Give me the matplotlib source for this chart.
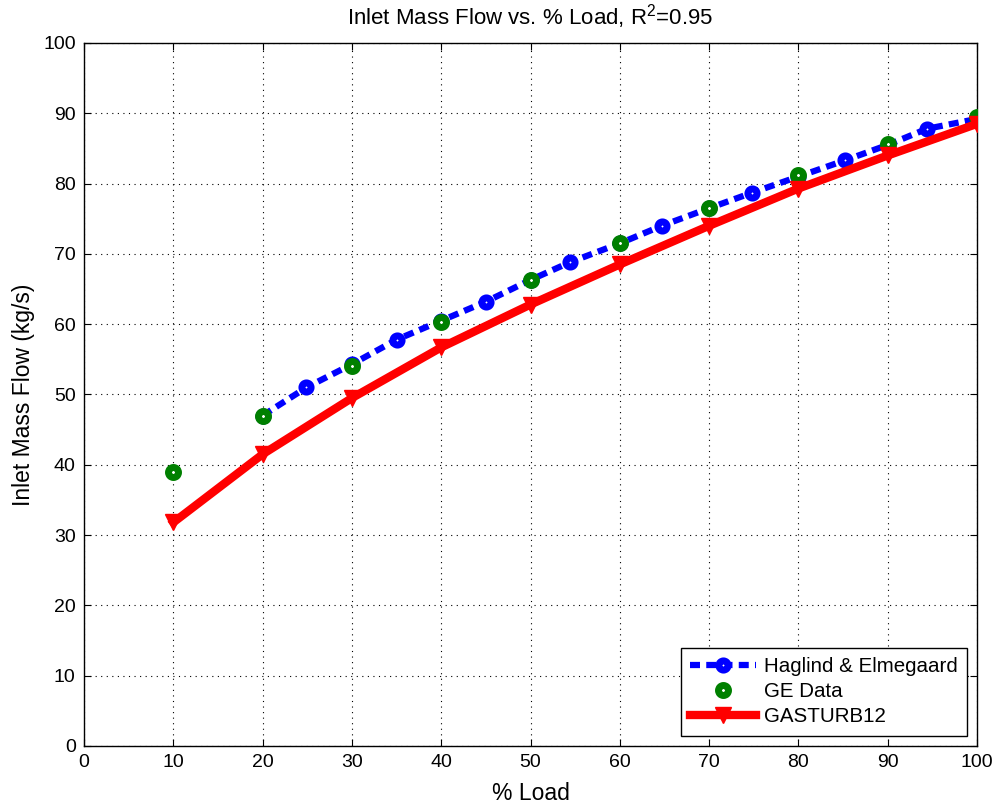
import matplotlib
matplotlib.use("Agg")
import matplotlib.pyplot as plt

plt.rcParams['font.family'] = ['Liberation Sans', 'DejaVu Sans']
plt.rcParams['mathtext.default'] = 'regular'

# Haglind & Elmegaard model
hag_load = [20, 24.9, 30, 35, 40, 45, 50, 54.4, 60, 64.7, 70, 74.8, 80, 85.2, 90, 94.4, 100]
hag_flow = [47.0, 51.0, 54.3, 57.8, 60.5, 63.2, 66.3, 68.8, 71.5, 74.0, 76.5, 78.7, 81.0, 83.3, 85.5, 87.8, 89.2]

# GE data
ge_load = [10, 20, 30, 40, 50, 60, 70, 80, 90, 100]
ge_flow = [39.0, 47.0, 54.0, 60.3, 66.3, 71.6, 76.5, 81.2, 85.6, 89.5]

# GASTURB12
gt_load = [10, 20, 30, 40, 50, 60, 70, 80, 90, 100]
gt_flow = [31.8, 41.5, 49.5, 56.7, 62.8, 68.5, 74.0, 79.3, 84.0, 88.5]

fig = plt.figure(figsize=(9.98, 8.05), dpi=100)
ax = fig.add_axes([0.0842, 0.0733, 0.8948, 0.8733])

ax.plot(hag_load, hag_flow, color='blue', linestyle=(0, (1.6, 1)), linewidth=4.5,
        marker='o', markersize=6.6, markeredgewidth=5, markerfacecolor='white',
        markeredgecolor='blue', label='Haglind & Elmegaard', zorder=3)
ax.plot(ge_load, ge_flow, linestyle='none', marker='o', markersize=7.2,
        markeredgewidth=5, markerfacecolor='white', markeredgecolor='green',
        label='GE Data', zorder=4)
ax.plot(gt_load, gt_flow, color='red', linewidth=6, marker='v', markersize=12,
        markerfacecolor='red', markeredgecolor='red', label='GASTURB12', zorder=5)

ax.set_xlim(0, 100)
ax.set_ylim(0, 100)
ax.set_xticks(range(0, 101, 10))
ax.set_yticks(range(0, 101, 10))
ax.tick_params(direction='in', top=True, right=True, labelsize=14, length=5, pad=6)
ax.grid(True, color='black', linestyle=(0, (1, 4)), linewidth=0.8)
for s in ax.spines.values():
    s.set_linewidth(1.0)

ax.set_xlabel('% Load', fontsize=16.5, labelpad=8)
ax.set_ylabel('Inlet Mass Flow (kg/s)', fontsize=16.5, labelpad=6)
ax.set_title('Inlet Mass Flow vs. % Load, R$^2$=0.95', fontsize=16, pad=13)

leg = ax.legend(loc='lower right', fontsize=14.8, fancybox=False, framealpha=1,
                edgecolor='black', handlelength=3.2, borderaxespad=0.5,
                labelspacing=0.3, borderpad=0.45, handletextpad=0.4)
leg.get_frame().set_linewidth(1.0)

fig.savefig('out.png', dpi=100)
